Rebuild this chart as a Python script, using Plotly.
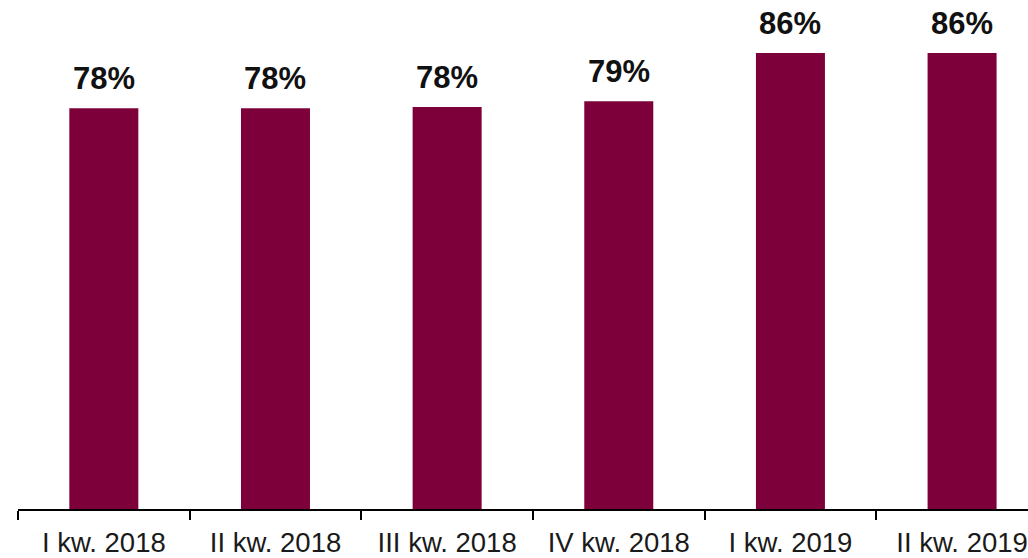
import plotly.graph_objects as go

# Quarterly share (%)
categories = ["I kw. 2018", "II kw. 2018", "III kw. 2018", "IV kw. 2018", "I kw. 2019", "II kw. 2019"]
values = [78.0, 78.0, 78.2, 79.0, 86.0, 86.0]

BAR_COLOR = "#7D003A"

fig = go.Figure()
fig.add_trace(go.Bar(
    x=categories,
    y=values,
    marker=dict(color=BAR_COLOR, line=dict(width=0)),
    hoverinfo="skip",
))

# Bold value labels above each bar
for c, v in zip(categories, values):
    fig.add_annotation(
        x=c, y=v, text=f"<b>{v:.0f}%</b>",
        showarrow=False, yanchor="bottom", yshift=10,
        font=dict(family="Liberation Sans, Arial, sans-serif", size=31, color="#111111"),
    )

fig.update_layout(
    width=1028, height=558,
    margin=dict(l=18, r=0, t=0, b=46),
    paper_bgcolor="white", plot_bgcolor="white",
    bargap=0.598,
    showlegend=False,
    font=dict(family="Liberation Sans, Arial, sans-serif", color="#1a1a1a"),
)
fig.update_xaxes(
    type="category",
    range=[-0.5, 5.384],
    showline=True, linecolor="black", linewidth=1.5,
    ticks="outside", tickson="boundaries", ticklen=9, tickcolor="black", tickwidth=1.5,
    tickfont=dict(size=27.5, color="#1a1a1a"),
    ticklabelstandoff=8,
    showgrid=False, zeroline=False,
)
fig.update_yaxes(
    range=[20, 93.67],
    visible=False, showgrid=False, zeroline=False,
)

fig.write_html("out.html")
